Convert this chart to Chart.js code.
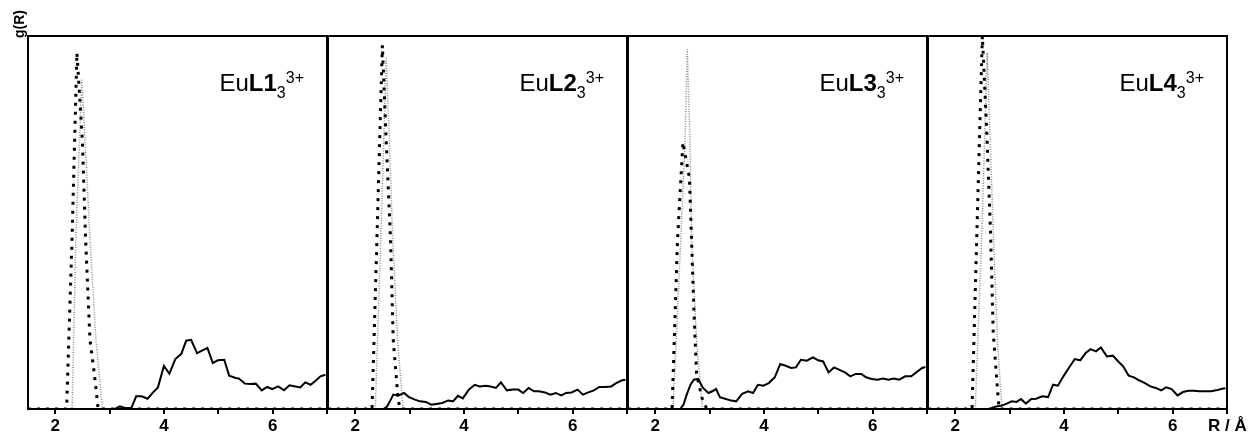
<!DOCTYPE html>
<html>
<head>
<meta charset="utf-8">
<script src="https://cdn.jsdelivr.net/npm/chart.js@4/dist/chart.umd.min.js"></script>
<style>
html,body{margin:0;padding:0;background:#fff;}
#wrap{position:relative;width:1249px;height:434px;}
#wrap canvas{position:absolute;left:0;top:0;}
</style>
</head>
<body>
<div id="wrap">
<canvas id="c0" width="1249" height="434"></canvas>
<canvas id="c1" width="1249" height="434"></canvas>
<canvas id="c2" width="1249" height="434"></canvas>
<canvas id="c3" width="1249" height="434"></canvas>
</div>
<script>
// ---- panel labels ----
const panelLigands = ['1', '2', '3', '4'];
const xTickValues = [2, 4, 6];
const yAxisTitle = 'g(R)';
const xAxisTitle = 'R / Å';

// ---- Panel 1 (EuL1) ----
const r1Black = [1.5, 2.21, 2.31, 2.40, 2.50, 2.56, 2.64, 2.72, 2.79, 7.0];
const g1Black = [0, 0, 9.1, 19.1, 14.4, 9.1, 3.7, 1.9, 0, 0];
const r1Grey = [1.5, 2.31, 2.38, 2.49, 2.55, 2.64, 2.75, 2.87, 7.0];
const g1Grey = [0, 0, 9.1, 17.7, 14.4, 9.1, 3.7, 0, 0];
const r1Solid = [1.5, 3.10, 3.19, 3.28, 3.40, 3.49, 3.59, 3.70, 3.80, 3.89, 4.00, 4.10, 4.21, 4.32, 4.41, 4.50, 4.61, 4.71, 4.80, 4.90, 4.99, 5.11, 5.20, 5.32, 5.38, 5.49, 5.60, 5.69, 5.80, 5.90, 5.99, 6.10, 6.21, 6.31, 6.42, 6.51, 6.60, 6.70, 6.79, 6.88, 6.97];
const g1Solid = [0, 0, 0.14, 0.05, 0.05, 0.68, 0.68, 0.55, 0.89, 1.16, 2.32, 1.89, 2.68, 2.96, 3.66, 3.71, 3.00, 3.14, 3.27, 2.46, 2.61, 2.64, 1.79, 1.66, 1.63, 1.36, 1.34, 1.36, 1.00, 1.18, 1.07, 1.21, 1.00, 1.27, 1.21, 1.16, 1.43, 1.30, 1.52, 1.75, 1.84];

// ---- Panel 2 (EuL2) ----
const r2Black = [1.5, 2.31, 2.40, 2.50, 2.57, 2.65, 2.70, 2.79, 2.83, 7.0];
const g2Black = [0, 0, 9.1, 19.5, 14.4, 9.1, 3.7, 0.5, 0, 0];
const r2Grey = [1.5, 2.37, 2.47, 2.57, 2.63, 2.69, 2.78, 2.88, 7.0];
const g2Grey = [0, 0, 9.1, 18.8, 14.4, 9.1, 3.7, 0, 0];
const r2Solid = [1.5, 2.52, 2.58, 2.64, 2.70, 2.79, 2.90, 2.99, 3.10, 3.19, 3.30, 3.40, 3.49, 3.60, 3.71, 3.80, 3.89, 3.98, 4.09, 4.20, 4.29, 4.40, 4.49, 4.59, 4.68, 4.79, 4.90, 5.00, 5.09, 5.19, 5.29, 5.38, 5.49, 5.59, 5.69, 5.79, 5.88, 5.98, 6.09, 6.19, 6.29, 6.39, 6.49, 6.60, 6.71, 6.80, 6.91, 6.97];
const g2Solid = [0, 0, 0.11, 0.41, 0.77, 0.71, 0.86, 0.64, 0.50, 0.41, 0.38, 0.23, 0.27, 0.32, 0.46, 0.41, 0.71, 0.57, 1.04, 1.30, 1.21, 1.25, 1.21, 1.13, 1.43, 1.00, 1.04, 1.04, 0.86, 1.13, 0.95, 0.95, 0.89, 0.77, 0.86, 0.73, 0.86, 0.89, 1.04, 0.77, 0.89, 1.00, 1.18, 1.18, 1.21, 1.39, 1.54, 1.57];

// ---- Panel 3 (EuL3) ----
const r3Black = [1.5, 2.31, 2.41, 2.51, 2.63, 2.67, 2.71, 2.76, 2.86, 2.95, 7.0];
const g3Black = [0, 0, 9.0, 14.3, 12.4, 9.0, 5.5, 1.9, 0.6, 0, 0];
const r3Grey = [1.5, 2.33, 2.47, 2.55, 2.59, 2.64, 2.67, 2.76, 2.87, 7.0];
const g3Grey = [0, 0, 9.1, 14.4, 19.3, 14.4, 9.1, 3.7, 0, 0];
const r3Solid = [1.5, 2.46, 2.52, 2.58, 2.65, 2.71, 2.79, 2.88, 2.98, 3.05, 3.12, 3.19, 3.30, 3.40, 3.49, 3.60, 3.71, 3.80, 3.89, 3.99, 4.09, 4.20, 4.30, 4.40, 4.50, 4.59, 4.68, 4.79, 4.90, 5.00, 5.09, 5.19, 5.29, 5.38, 5.49, 5.59, 5.69, 5.79, 5.88, 5.98, 6.09, 6.19, 6.29, 6.39, 6.49, 6.60, 6.71, 6.80, 6.91, 6.97];
const g3Solid = [0, 0, 0.23, 0.77, 1.30, 1.57, 1.61, 1.13, 0.86, 0.95, 1.07, 0.63, 0.54, 0.45, 0.41, 0.82, 0.95, 0.86, 1.30, 1.25, 1.39, 1.70, 2.41, 2.32, 2.20, 2.23, 2.64, 2.59, 2.77, 2.61, 2.55, 1.96, 2.23, 2.11, 1.96, 1.75, 1.88, 1.88, 1.70, 1.61, 1.57, 1.63, 1.57, 1.63, 1.57, 1.75, 1.75, 1.96, 2.20, 2.25];

// ---- Panel 4 (EuL4) ----
const r4Black = [1.5, 2.31, 2.40, 2.50, 2.58, 2.65, 2.70, 2.79, 2.81, 7.0];
const g4Black = [0, 0, 9.5, 20.0, 14.9, 9.5, 4.1, 0.6, 0, 0];
const r4Grey = [1.5, 2.37, 2.49, 2.59, 2.70, 2.78, 2.86, 7.0];
const g4Grey = [0, 0, 9.5, 19.1, 9.5, 3.5, 0, 0];
const r4Solid = [1.5, 2.61, 2.67, 2.76, 2.85, 2.95, 3.04, 3.13, 3.21, 3.30, 3.40, 3.49, 3.60, 3.71, 3.80, 3.89, 3.99, 4.09, 4.20, 4.30, 4.40, 4.49, 4.59, 4.68, 4.79, 4.90, 5.00, 5.09, 5.19, 5.29, 5.38, 5.49, 5.59, 5.69, 5.79, 5.88, 5.98, 6.09, 6.19, 6.29, 6.39, 6.49, 6.60, 6.71, 6.80, 6.91, 6.97];
const g4Solid = [0, 0, 0.05, 0.14, 0.18, 0.29, 0.41, 0.38, 0.54, 0.29, 0.54, 0.55, 0.68, 0.64, 1.30, 1.25, 1.75, 2.20, 2.68, 2.61, 3.00, 3.21, 3.09, 3.30, 2.82, 2.86, 2.55, 2.29, 1.79, 1.70, 1.54, 1.39, 1.21, 1.13, 1.00, 1.16, 1.07, 0.73, 0.91, 0.98, 0.98, 0.95, 0.95, 0.95, 1.00, 1.09, 1.11];

const panels = [
  {rB: r1Black, gB: g1Black, rG: r1Grey, gG: g1Grey, rS: r1Solid, gS: g1Solid},
  {rB: r2Black, gB: g2Black, rG: r2Grey, gG: g2Grey, rS: r2Solid, gS: g2Solid},
  {rB: r3Black, gB: g3Black, rG: r3Grey, gG: g3Grey, rS: r3Solid, gS: g3Solid},
  {rB: r4Black, gB: g4Black, rG: r4Grey, gG: g4Grey, rS: r4Solid, gS: g4Solid}
];

const FONT = '"Liberation Sans", Arial, Helvetica, sans-serif';
const W = 1249;
const panelLeft = [28, 328, 628, 928];
const panelWidth = 299;

function zip(r, g) { return r.map((x, i) => ({x: x, y: g[i]})); }

function makeOverlay(idx) {
  return {
    id: 'overlay' + idx,
    afterDraw(chart) {
      const ctx = chart.ctx;
      const a = chart.chartArea;
      ctx.save();
      // frame
      ctx.strokeStyle = '#000';
      ctx.lineWidth = 2;
      ctx.strokeRect(a.left, a.top, a.right - a.left, a.bottom - a.top);
      // annotation EuLn_3^3+
      const parts = [
        {t: 'Eu', f: '24px ' + FONT, dy: 0},
        {t: 'L' + panelLigands[idx], f: 'bold 24px ' + FONT, dy: 0},
        {t: '3', f: '16px ' + FONT, dy: 7},
        {t: '3+', f: '16px ' + FONT, dy: -8}
      ];
      let total = 0;
      parts.forEach(p => { ctx.font = p.f; p.w = ctx.measureText(p.t).width; total += p.w; });
      let x = a.left + 276 - total;
      const base = 91;
      ctx.fillStyle = '#000';
      ctx.textBaseline = 'alphabetic';
      ctx.textAlign = 'left';
      parts.forEach(p => { ctx.font = p.f; ctx.fillText(p.t, x, base + p.dy); x += p.w; });
      if (idx === 0) {
        ctx.save();
        ctx.translate(20, 24);
        ctx.rotate(-Math.PI / 2);
        ctx.font = 'bold 14px ' + FONT;
        ctx.textAlign = 'center';
        ctx.textBaseline = 'middle';
        ctx.fillText(yAxisTitle, 0, 0);
        ctx.restore();
      }
      if (idx === 3) {
        ctx.font = 'bold 17px ' + FONT;
        ctx.textAlign = 'left';
        ctx.textBaseline = 'middle';
        ctx.fillText(xAxisTitle, 1208, 426);
      }
      ctx.restore();
    }
  };
}

panels.forEach((p, idx) => {
  const L = panelLeft[idx];
  const R = L + panelWidth;
  new Chart(document.getElementById('c' + idx), {
    type: 'line',
    data: {
      datasets: [
        {label: 'solid', data: zip(p.rS, p.gS), borderColor: '#000', borderWidth: 2, pointRadius: 0, tension: 0, fill: false},
        {label: 'dashed', data: zip(p.rB, p.gB), borderColor: '#000', borderWidth: 3, borderDash: [3, 6], pointRadius: 0, tension: 0, fill: false},
        {label: 'dotted', data: zip(p.rG, p.gG), borderColor: '#8c8c8c', borderWidth: 1.5, borderDash: [1, 1.5], pointRadius: 0, tension: 0, fill: false}
      ]
    },
    options: {
      responsive: false,
      animation: false,
      devicePixelRatio: 1,
      layout: {padding: {left: L, right: W - R, top: 36, bottom: 0}},
      plugins: {legend: {display: false}, tooltip: {enabled: false}},
      scales: {
        x: {
          type: 'linear', min: 1.5, max: 7,
          afterFit(s) { s.height = 25; },
          border: {display: false},
          grid: {drawOnChartArea: false, tickLength: 5, color: '#000', lineWidth: 2},
          ticks: {
            stepSize: 1, includeBounds: false, autoSkip: false, maxRotation: 0, padding: 2,
            color: '#000', font: {family: FONT, size: 17, weight: 'bold'},
            callback: v => (xTickValues.includes(v) ? String(v) : '')
          }
        },
        y: {display: false, min: 0, max: 20}
      }
    },
    plugins: [makeOverlay(idx)]
  });
});
</script>
</body>
</html>
